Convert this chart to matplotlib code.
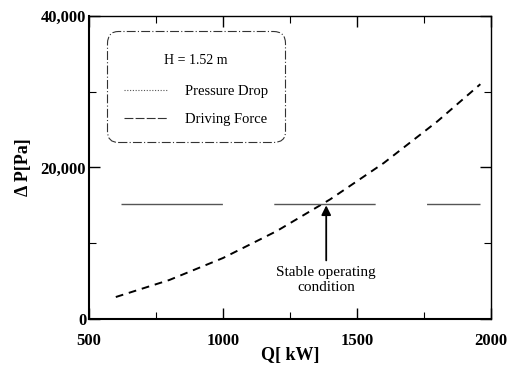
import matplotlib
matplotlib.use("Agg")
import matplotlib.pyplot as plt
from matplotlib.lines import Line2D
from matplotlib.ticker import MultipleLocator, FuncFormatter

# Data
q_pressure = [600, 800, 1000, 1200, 1400, 1600, 1800, 1960]
p_pressure = [2900, 5150, 8050, 11600, 15800, 20600, 26100, 31000]
q_driving = [620, 1960]
p_driving = [15200, 15200]
x_ticks = [500, 1000, 1500, 2000]
y_ticks = [0, 20000, 40000]
legend_title = "H = 1.52 m"
legend_labels = ["Pressure Drop", "Driving Force"]
annot_point = (1385, 15000)
annot_text_pos = (1385, 7000)

plt.rcParams['font.family'] = ['Liberation Serif', 'DejaVu Serif']

fig = plt.figure(figsize=(5.18, 3.68), dpi=100)
ax = fig.add_axes([0.1718, 0.1332, 0.948 - 0.1718, 0.9565 - 0.1332])

ax.plot(q_pressure, p_pressure, color='black', lw=1.4, linestyle=(0, (4, 3)))
ax.plot(q_driving, p_driving, color='#555555', lw=1.0, linestyle=(0, (73, 37)))

ax.set_xlim(500, 2000)
ax.set_ylim(0, 40000)
ax.set_xticks(x_ticks)
ax.set_yticks(y_ticks)
ax.xaxis.set_minor_locator(MultipleLocator(250))
ax.yaxis.set_minor_locator(MultipleLocator(10000))
ax.yaxis.set_major_formatter(FuncFormatter(lambda v, p: f"{int(v):,}"))
ax.tick_params(which='both', direction='in', top=True, right=True)
ax.tick_params(which='major', length=8, width=1)
ax.tick_params(which='minor', length=5, width=0.8)
for lab in ax.get_xticklabels() + ax.get_yticklabels():
    lab.set_fontweight('bold')
    lab.set_fontsize(12)
ax.tick_params(axis='x', pad=10)
ax.tick_params(axis='y', pad=2)
for s in ax.spines.values():
    s.set_linewidth(1.0)
ax.spines['left'].set_linewidth(1.5)
ax.spines['bottom'].set_linewidth(1.5)

ax.set_xlabel("Q[ kW]", fontsize=13, fontweight='bold', labelpad=-1)
ax.set_ylabel("Δ P[Pa]", fontsize=13, fontweight='bold', labelpad=6)

handles = [Line2D([], [], color='#555555', lw=0.8, linestyle=(0, (1, 1.5))),
           Line2D([], [], color='#333333', lw=0.8, linestyle=(0, (8, 2)))]
leg = ax.legend(handles, legend_labels, title=legend_title, loc='upper left',
                bbox_to_anchor=(0.055, 0.935), fontsize=10.5, title_fontsize=10,
                fancybox=True, framealpha=1, edgecolor='#333333',
                handlelength=3.0, handletextpad=1.2, labelspacing=1.0,
                borderpad=0.85, borderaxespad=0)
leg.get_title().set_position((0, -6))
frame = leg.get_frame()
frame.set_linestyle((0, (8, 2, 1, 2)))
frame.set_linewidth(0.8)
frame.set_boxstyle('round', pad=0.3, rounding_size=0.8)
leg._legend_box.sep = 17

ax.annotate("Stable operating\ncondition", xy=annot_point, xytext=annot_text_pos,
            ha='center', va='top', fontsize=11,
            arrowprops=dict(arrowstyle='-|>', color='black', lw=1.3,
                            mutation_scale=14, shrinkA=2, shrinkB=0))

fig.savefig("out.png", dpi=100)
